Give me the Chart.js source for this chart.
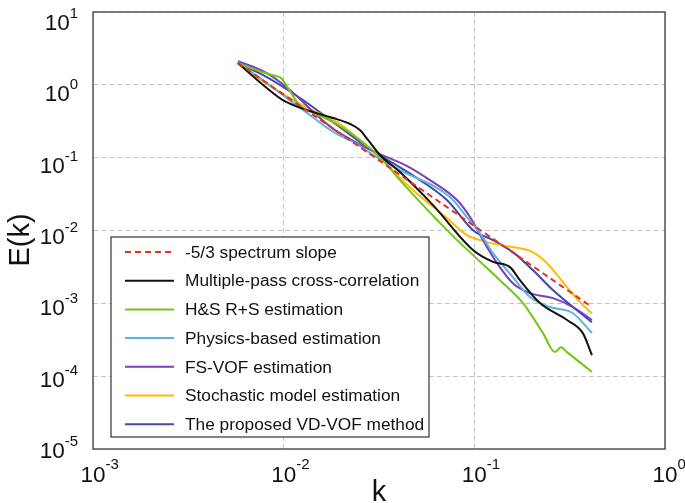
<!DOCTYPE html>
<html>
<head>
<meta charset="utf-8">
<script src="https://cdn.jsdelivr.net/npm/chart.js@4/dist/chart.umd.min.js"></script>
<style>
  html, body { margin: 0; padding: 0; background: #fff; }
  #wrap { width: 685px; height: 503px; position: relative; }
</style>
</head>
<body>
<div id="wrap"><canvas id="c"></canvas></div>
<script>
// wavenumber k and energy E(k), one pair of arrays per curve
const SERIES_NAMES = [
  '-5/3 spectrum slope',
  'Multiple-pass cross-correlation',
  'H&S R+S estimation',
  'Physics-based estimation',
  'FS-VOF estimation',
  'Stochastic model estimation',
  'The proposed VD-VOF method',
];
const SERIES_COLORS = ['#e8301c', '#111111', '#72c614', '#5cb3e0', '#7a3fbd', '#ffbb00', '#3b4bab'];

const K_SLOPE = [0.00575, 0.414];
const E_SLOPE = [1.99, 0.00089];

const K_MPCC = [0.00575, 0.00816, 0.0099, 0.0137, 0.0182, 0.0223, 0.0251, 0.0277, 0.0320, 0.0407, 0.0607, 0.0984, 0.1253, 0.1538, 0.1734, 0.2208, 0.3062, 0.3707, 0.414];
const E_MPCC = [1.99, 0.903, 0.618, 0.437, 0.350, 0.290, 0.239, 0.175, 0.109, 0.0634, 0.0223, 0.0054, 0.0037, 0.00314, 0.00208, 0.00101, 0.00059, 0.00039, 0.000194];

const K_HS = [0.00575, 0.00769, 0.00912, 0.00968, 0.01055, 0.0122, 0.01406, 0.0197, 0.0320, 0.0407, 0.0745, 0.0984, 0.1361, 0.1799, 0.229, 0.265, 0.2844, 0.3062, 0.414];
const E_HS = [1.99, 1.50, 1.32, 1.24, 0.903, 0.512, 0.423, 0.272, 0.102, 0.0492, 0.0092, 0.00459, 0.00208, 0.00101, 0.00039, 0.000214, 0.000250, 0.000214, 0.000114];

const K_PHYS = [0.00575, 0.00752, 0.0099, 0.0137, 0.0182, 0.0237, 0.0294, 0.0407, 0.0745, 0.0914, 0.107, 0.1253, 0.1592, 0.196, 0.249, 0.3289, 0.414];
const E_PHYS = [1.99, 1.24, 0.724, 0.385, 0.225, 0.159, 0.109, 0.0676, 0.0288, 0.0153, 0.0092, 0.0049, 0.00229, 0.00122, 0.00089, 0.00073, 0.00039];

const K_FSVOF = [0.00575, 0.00816, 0.0108, 0.01294, 0.01549, 0.01858, 0.0223, 0.0294, 0.0444, 0.0585, 0.0811, 0.0949, 0.111, 0.1315, 0.1592, 0.196, 0.2582, 0.3289, 0.414];
const E_FSVOF = [2.12, 1.45, 0.849, 0.545, 0.350, 0.239, 0.180, 0.123, 0.0767, 0.0492, 0.0262, 0.0153, 0.00738, 0.00357, 0.00189, 0.00138, 0.00118, 0.00089, 0.00059];

const K_STOCH = [0.00575, 0.00816, 0.0122, 0.0197, 0.0320, 0.0476, 0.0718, 0.0914, 0.107, 0.1361, 0.1734, 0.2028, 0.240, 0.3062, 0.3581, 0.414];
const E_STOCH = [1.99, 1.03, 0.545, 0.290, 0.0988, 0.0359, 0.0148, 0.00865, 0.00738, 0.0063, 0.0057, 0.00505, 0.00357, 0.00167, 0.00104, 0.00073];

const K_VDVOF = [0.00575, 0.00816, 0.0122, 0.0182, 0.0274, 0.0519, 0.0718, 0.0984, 0.1253, 0.1592, 0.2028, 0.2582, 0.3289, 0.414];
const E_VDVOF = [1.99, 1.28, 0.659, 0.308, 0.140, 0.0492, 0.0262, 0.0101, 0.00738, 0.00505, 0.00286, 0.00152, 0.00089, 0.00055];

const X_DECADES = [-3, -2, -1, 0];
const Y_DECADES = [1, 0, -1, -2, -3, -4, -5];

const SERIES_K = [K_SLOPE, K_MPCC, K_HS, K_PHYS, K_FSVOF, K_STOCH, K_VDVOF];
const SERIES_E = [E_SLOPE, E_MPCC, E_HS, E_PHYS, E_FSVOF, E_STOCH, E_VDVOF];

const FONT = '"Liberation Sans", Arial, sans-serif';

const datasets = SERIES_NAMES.map((name, i) => ({
  label: name,
  data: SERIES_K[i].map((k, j) => ({ x: k, y: SERIES_E[i][j] })),
  borderColor: SERIES_COLORS[i],
  backgroundColor: SERIES_COLORS[i],
  borderWidth: 2,
  borderDash: i === 0 ? [6, 4] : [],
  pointRadius: 0,
  cubicInterpolationMode: i === 0 ? 'default' : 'monotone',
  tension: 0,
  fill: false,
}));

const onlyDecades = (scale) => {
  scale.ticks = scale.ticks.filter((t) => {
    const l = Math.log10(t.value);
    return Math.abs(l - Math.round(l)) < 1e-6;
  });
};

// tick labels as 10 with a raised exponent, axis titles, frame and boxed legend
const decor = {
  id: 'decor',
  afterDraw(chart) {
    const { ctx, chartArea: a, scales } = chart;
    ctx.save();

    // frame
    ctx.strokeStyle = '#555';
    ctx.lineWidth = 1.5;
    ctx.strokeRect(a.left, a.top, a.right - a.left, a.bottom - a.top);

    ctx.fillStyle = '#111';
    ctx.textBaseline = 'alphabetic';

    // x tick labels
    for (const e of X_DECADES) {
      const px = scales.x.getPixelForValue(Math.pow(10, e));
      ctx.font = '22.5px ' + FONT;
      const w = ctx.measureText('10').width;
      ctx.textAlign = 'center';
      ctx.fillText('10', px, a.bottom + 33);
      ctx.font = '15px ' + FONT;
      ctx.textAlign = 'left';
      ctx.fillText(String(e), px + w / 2, a.bottom + 20);
    }

    // y tick labels
    for (const e of Y_DECADES) {
      const py = scales.y.getPixelForValue(Math.pow(10, e));
      const cy = a.top + 10 + (py - a.top) * 0.979;
      ctx.font = '15px ' + FONT;
      const ew = ctx.measureText(String(e)).width;
      ctx.textAlign = 'left';
      ctx.fillText(String(e), a.left - 15 - ew, cy - 4);
      ctx.font = '22.5px ' + FONT;
      ctx.textAlign = 'right';
      ctx.fillText('10', a.left - 15 - ew, cy + 8);
    }

    // axis titles
    ctx.font = '29px ' + FONT;
    ctx.textAlign = 'center';
    ctx.fillText('k', (a.left + a.right) / 2, a.bottom + 52);
    ctx.save();
    ctx.translate(29, 240);
    ctx.rotate(-Math.PI / 2);
    ctx.fillText('E(k)', 0, 0);
    ctx.restore();

    // legend
    const lx = a.left + 18, ly = a.top + 225, lw = 318, lh = 200;
    ctx.fillStyle = '#fff';
    ctx.fillRect(lx, ly, lw, lh);
    ctx.strokeStyle = '#333';
    ctx.lineWidth = 1.2;
    ctx.strokeRect(lx, ly, lw, lh);
    ctx.font = '17.3px ' + FONT;
    ctx.textAlign = 'left';
    ctx.textBaseline = 'middle';
    chart.data.datasets.forEach((ds, i) => {
      const ry = ly + 15 + i * 28.7;
      ctx.strokeStyle = ds.borderColor;
      ctx.lineWidth = 2;
      ctx.setLineDash(ds.borderDash);
      ctx.beginPath();
      ctx.moveTo(lx + 14, ry);
      ctx.lineTo(lx + 63, ry);
      ctx.stroke();
      ctx.setLineDash([]);
      ctx.fillStyle = '#111';
      ctx.fillText(ds.label, lx + 74, ry + 1);
    });

    ctx.restore();
  },
};

new Chart(document.getElementById('c'), {
  type: 'line',
  data: { datasets },
  plugins: [decor],
  options: {
    responsive: true,
    maintainAspectRatio: false,
    animation: false,
    layout: { padding: { left: 93, top: 12, right: 20, bottom: 54 } },
    plugins: { legend: { display: false }, tooltip: { enabled: false } },
    scales: {
      x: {
        type: 'logarithmic', min: 0.001, max: 1,
        afterBuildTicks: onlyDecades,
        ticks: { display: false },
        grid: { color: '#c4c4c4', lineWidth: 1, drawTicks: false },
        border: { display: false, dash: [5, 3] },
      },
      y: {
        type: 'logarithmic', min: 0.00001, max: 10,
        afterBuildTicks: onlyDecades,
        ticks: { display: false },
        grid: { color: '#c4c4c4', lineWidth: 1, drawTicks: false },
        border: { display: false, dash: [5, 3] },
      },
    },
  },
});
</script>
</body>
</html>
